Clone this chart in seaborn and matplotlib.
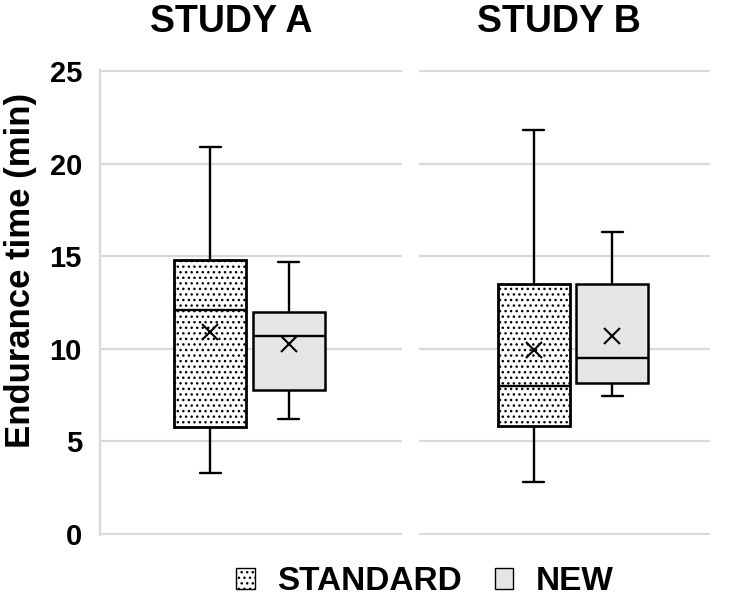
import pandas as pd
import numpy as np
import matplotlib
matplotlib.use("Agg")
import matplotlib.pyplot as plt
import seaborn as sns
from matplotlib.patches import Patch

# Categories
studies = ["STUDY A", "STUDY B"]
groups = ["STANDARD", "NEW"]

# Five-number summaries: min, Q1, median, Q3, max
study_a_standard = [3.3, 5.8, 12.1, 14.8, 20.9]
study_a_new = [6.2, 7.8, 10.7, 12.0, 14.7]
study_b_standard = [2.8, 5.85, 8.0, 13.5, 21.8]
study_b_new = [7.45, 8.15, 9.5, 13.5, 16.3]

# Means (x markers), order = groups
means_a = [10.9, 10.25]
means_b = [9.95, 10.7]

# Long-form tables
rows = []
for study, std_vals, new_vals in zip(studies, [study_a_standard, study_b_standard],
                                     [study_a_new, study_b_new]):
    rows += [(study, "STANDARD", v) for v in std_vals]
    rows += [(study, "NEW", v) for v in new_vals]
df = pd.DataFrame(rows, columns=["study", "group", "value"])

mean_rows = []
for study, m in zip(studies, [means_a, means_b]):
    mean_rows += [(study, g, v) for g, v in zip(groups, m)]
df_means = pd.DataFrame(mean_rows, columns=["study", "group", "mean"])

sns.set_style("white")
plt.rcParams["font.family"] = ["Liberation Sans", "DejaVu Sans"]
plt.rcParams["font.weight"] = "bold"
plt.rcParams["text.color"] = "black"
plt.rcParams["axes.labelcolor"] = "black"
plt.rcParams["ytick.color"] = "black"
plt.rcParams["xtick.color"] = "black"
plt.rcParams["hatch.linewidth"] = 1.0

box_colors = {"STANDARD": "white", "NEW": "#e5e5e5"}
grid_color = "#d9d9d9"

fig = plt.figure(figsize=(7.35, 6.01), dpi=100)
ax_a = fig.add_axes([100 / 735, 66 / 601, 302 / 735, 465 / 601])
ax_b = fig.add_axes([419 / 735, 66 / 601, 291 / 735, 465 / 601], sharey=ax_a)

xlims = [(-149.5 / 302, 152.5 / 302), (-154 / 302, 137 / 302)]
title_x = [0.434, 0.481]

for ax, study, xl, tx in zip([ax_a, ax_b], studies, xlims, title_x):
    sub = df[df["study"] == study]
    sns.boxplot(data=sub, x="study", y="value", hue="group", hue_order=groups,
                palette=box_colors, width=0.52, gap=0.08, whis=(0, 100),
                linecolor="black", linewidth=1.7, capwidths=0.07,
                legend=False, ax=ax)
    for p in ax.patches:
        fc = p.get_facecolor()
        if fc[0] > 0.99 and fc[1] > 0.99:
            p.set_hatch("...")
            p.set_linewidth(2.0)
        else:
            p.set_linewidth(1.8)

    sub_m = df_means[df_means["study"] == study]
    sns.pointplot(data=sub_m, x="study", y="mean", hue="group", hue_order=groups,
                  palette=["black", "black"], dodge=0.26, marker="x",
                  linestyle="none", markersize=11, markeredgewidth=1.5,
                  errorbar=None, legend=False, ax=ax)

    ax.set_xlim(*xl)
    ax.set_ylim(-0.06, 25.06)
    ax.set_yticks([0, 5, 10, 15, 20, 25])
    ax.set_xticks([])
    ax.set_xlabel("")
    ax.set_ylabel("")
    ax.grid(axis="y", color=grid_color, linewidth=1.6)
    ax.grid(axis="x", visible=False)
    ax.set_axisbelow(True)
    for s in ax.spines.values():
        s.set_visible(False)
    ax.set_title(study, fontsize=27, fontweight="bold", x=tx, pad=27, color="black")

ax_a.spines["left"].set_visible(True)
ax_a.spines["left"].set_color(grid_color)
ax_a.spines["left"].set_linewidth(1.6)
ax_a.tick_params(axis="y", length=0, pad=13, labelsize=21, labelcolor="black")
ax_b.tick_params(axis="y", length=0, labelleft=False)

ax_a.set_ylabel("Endurance time (min)", fontsize=25, fontweight="bold", color="black")
ax_a.yaxis.set_label_coords(-0.209, 0.57)

handles = [Patch(facecolor="white", edgecolor="black", hatch="...", linewidth=1.0),
           Patch(facecolor="#e5e5e5", edgecolor="black", linewidth=1.0)]
fig.legend(handles, groups, loc="center", bbox_to_anchor=(0.578, 0.032), ncol=2,
           frameon=False, prop={"weight": "bold", "size": 24},
           handlelength=0.55, handleheight=0.55, handletextpad=0.67,
           columnspacing=1.0, labelcolor="black")

fig.savefig("out.png", dpi=100)
